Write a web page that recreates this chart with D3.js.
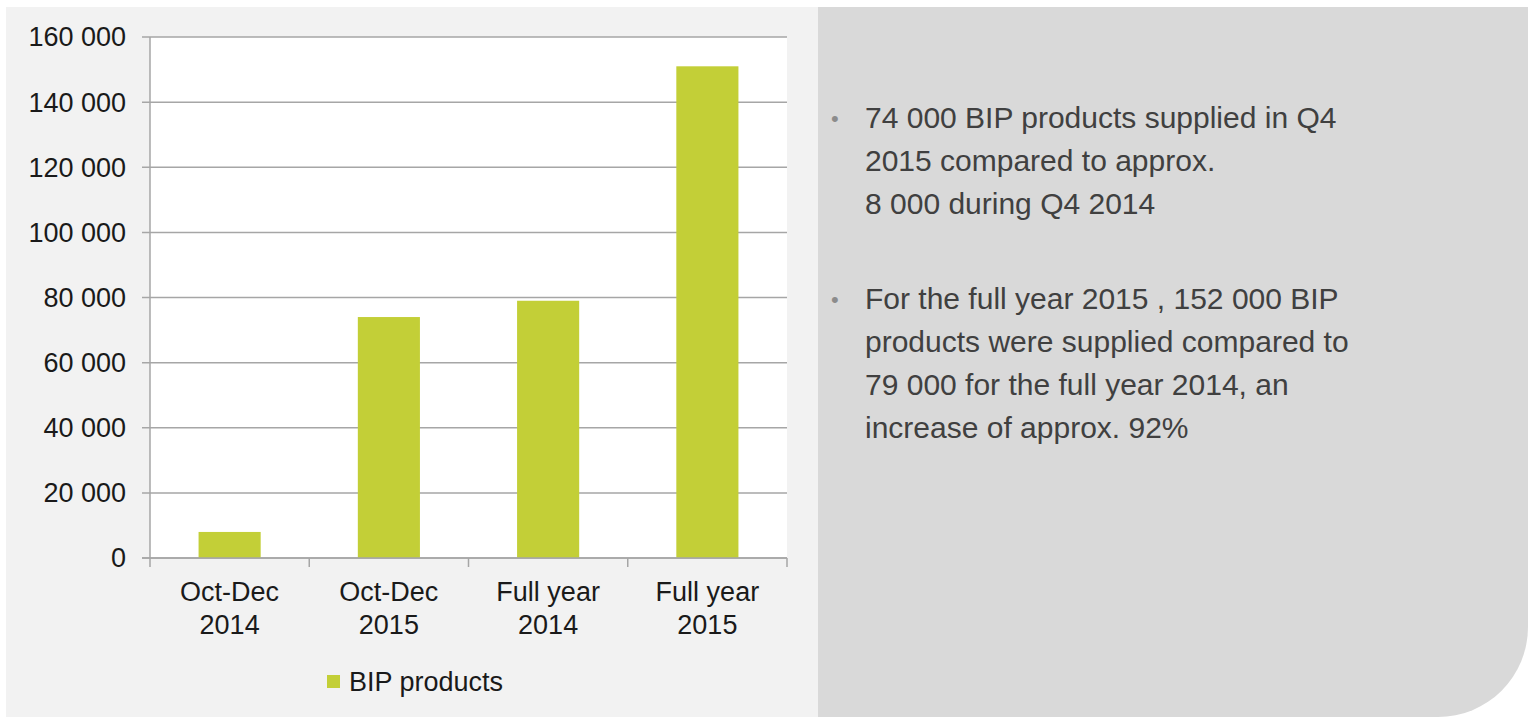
<!DOCTYPE html>
<html>
<head>
<meta charset="utf-8">
<script src="https://d3js.org/d3.v7.min.js"></script>
<style>
  body { margin: 0; background: #fff; }
  svg { display: block; font-family: "Liberation Sans", Arial, sans-serif; }
</style>
</head>
<body>
<div id="chart"></div>
<script>
// chart data
const CATEGORIES = ["Oct-Dec 2014", "Oct-Dec 2015", "Full year 2014", "Full year 2015"];
const CATEGORY_LINES = [["Oct-Dec", "2014"], ["Oct-Dec", "2015"], ["Full year", "2014"], ["Full year", "2015"]];
const VALUES = [8000, 74000, 79000, 151000];
const Y_TICKS = [0, 20000, 40000, 60000, 80000, 100000, 120000, 140000, 160000];
const SERIES_NAME = "BIP products";

const BULLETS = [
    ["74 000 BIP products supplied in Q4", "2015 compared to approx.", "8 000 during Q4 2014"],
    ["For the full year 2015 , 152 000 BIP", "products were supplied compared to", "79 000 for the full year 2014, an", "increase of approx. 92%"]
];

const BAR_COLOR = "#c3cf37";

const drawChart = () => {
    const W = 1528, H = 717;
    const svg = d3.select("#chart").append("svg")
        .attr("width", W)
        .attr("height", H);

    // panels
    svg.append("rect")
        .attr("x", 6).attr("y", 7)
        .attr("width", 812).attr("height", H - 7)
        .attr("fill", "#f2f2f2");

    const r = 90;
    const px = 818, py = 7;
    svg.append("path")
        .attr("d", `M${px},${py}H${W}V${H - r}A${r},${r} 0 0 1 ${W - r},${H}H${px}Z`)
        .attr("fill", "#d9d9d9");

    const left = 150, right = 787, top = 37, bottom = 558;

    svg.append("rect")
        .attr("x", left).attr("y", top)
        .attr("width", right - left).attr("height", bottom - top)
        .attr("fill", "#fff");

    const y = d3.scaleLinear().domain([0, 160000]).range([bottom, top]);
    const x = d3.scaleBand()
        .domain(CATEGORIES)
        .range([left, right])
        .paddingInner(0.61)
        .paddingOuter(0.305);
    const step = x.step();

    // gridlines + y labels
    const fmt = v => d3.format(",")(v).replace(/,/g, " ");
    const yAxis = svg.append("g");
    yAxis.selectAll("line.grid")
        .data(Y_TICKS)
        .join("line")
        .attr("class", "grid")
        .attr("x1", left - 8).attr("x2", right)
        .attr("y1", d => y(d)).attr("y2", d => y(d))
        .attr("stroke", "#a6a6a6")
        .attr("stroke-width", 1.5);
    yAxis.selectAll("text")
        .data(Y_TICKS)
        .join("text")
        .attr("x", left - 24)
        .attr("y", d => y(d))
        .attr("dy", "0.35em")
        .attr("text-anchor", "end")
        .attr("font-size", 27)
        .attr("fill", "#1a1a1a")
        .text(fmt);

    // bars
    svg.selectAll("rect.bar")
        .data(VALUES)
        .join("rect")
        .attr("class", "bar")
        .attr("x", (d, i) => x(CATEGORIES[i]))
        .attr("width", x.bandwidth())
        .attr("y", d => y(d))
        .attr("height", d => y(0) - y(d))
        .attr("fill", BAR_COLOR);

    // axis lines
    svg.append("line")
        .attr("x1", left).attr("x2", left)
        .attr("y1", top).attr("y2", bottom)
        .attr("stroke", "#a6a6a6").attr("stroke-width", 1.5);
    svg.append("line")
        .attr("x1", left - 8).attr("x2", right)
        .attr("y1", bottom).attr("y2", bottom)
        .attr("stroke", "#a6a6a6").attr("stroke-width", 1.5);

    const boundaries = CATEGORIES.map(c => x(c) - step * x.paddingInner() / 2).concat([right]);
    svg.selectAll("line.xtick")
        .data(boundaries)
        .join("line")
        .attr("class", "xtick")
        .attr("x1", d => d).attr("x2", d => d)
        .attr("y1", bottom).attr("y2", bottom + 9)
        .attr("stroke", "#a6a6a6").attr("stroke-width", 1.5);

    // x labels
    svg.selectAll("text.xlab")
        .data(CATEGORY_LINES)
        .join("text")
        .attr("class", "xlab")
        .attr("text-anchor", "middle")
        .attr("font-size", 27)
        .attr("fill", "#1a1a1a")
        .each(function(lines, i) {
            const cx = x(CATEGORIES[i]) + x.bandwidth() / 2;
            d3.select(this).selectAll("tspan")
                .data(lines)
                .join("tspan")
                .attr("x", cx)
                .attr("y", (d, j) => 601 + j * 33)
                .text(d => d);
        });

    // legend
    svg.append("rect")
        .attr("x", 327).attr("y", 675)
        .attr("width", 13).attr("height", 13)
        .attr("fill", BAR_COLOR);
    svg.append("text")
        .attr("x", 349).attr("y", 691)
        .attr("font-size", 27)
        .attr("fill", "#1a1a1a")
        .text(SERIES_NAME);

    // bullet text
    const starts = [128, 309];
    BULLETS.forEach((lines, b) => {
        svg.append("text")
            .attr("x", 831).attr("y", starts[b] - 2)
            .attr("font-size", 22)
            .attr("fill", "#8c8c8c")
            .text("\u2022");
        const t = svg.append("text")
            .attr("font-size", 30)
            .attr("fill", "#404040");
        t.selectAll("tspan")
            .data(lines)
            .join("tspan")
            .attr("x", 865)
            .attr("y", (d, j) => starts[b] + j * 43)
            .text(d => d);
    });
};

window.addEventListener("DOMContentLoaded", () => {
    drawChart();
}, {once: true});
</script>
</body>
</html>
